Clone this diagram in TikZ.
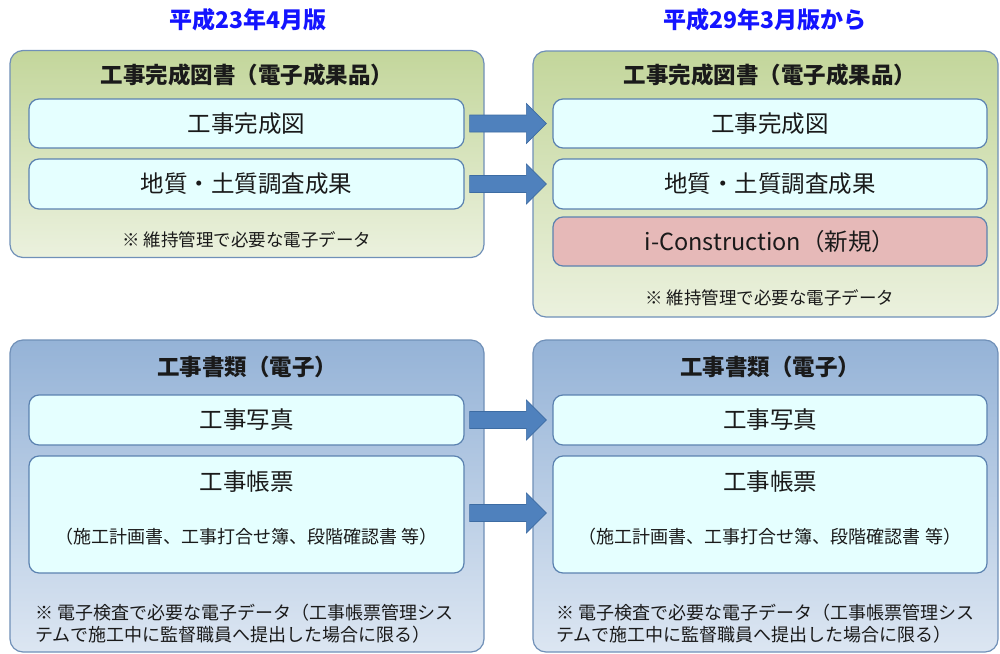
\documentclass[tikz,border=0pt]{standalone}
\usepackage{fontspec}
\setmainfont{Noto Sans CJK JP}
\usetikzlibrary{calc}
\definecolor{titleblue}{HTML}{1414FF}
\definecolor{greentop}{HTML}{C3D69B}
\definecolor{greenbot}{HTML}{EBF1DE}
\definecolor{bluetop}{HTML}{95B3D7}
\definecolor{bluebot}{HTML}{DCE6F2}
\definecolor{outerline}{HTML}{7090B8}
\definecolor{innerline}{HTML}{5B82B0}
\definecolor{innerfill}{HTML}{E5FFFF}
\definecolor{pinkfill}{HTML}{E6B9B8}
\definecolor{arrowfill}{HTML}{4F81BD}
\definecolor{arrowline}{HTML}{3D6CA3}
\definecolor{txt}{HTML}{1A1A1A}
\begin{document}
\begin{tikzpicture}[x=1pt,y=-1pt,
  greenbox/.style={draw=outerline,line width=1.2pt,rounded corners=13pt,top color=greentop,bottom color=greenbot,inner sep=0pt},
  bluebox/.style={draw=outerline,line width=1.2pt,rounded corners=13pt,top color=bluetop,bottom color=bluebot,inner sep=0pt},
  innerbox/.style={draw=innerline,line width=1.2pt,rounded corners=10pt,fill=innerfill,inner sep=0pt,text=txt,font=\fontsize{23.5}{27}\selectfont},
  pinkbox/.style={innerbox,fill=pinkfill},
  titletext/.style={text=titleblue,font=\fontsize{23}{27}\selectfont\bfseries,inner sep=0pt},
  headtext/.style={text=txt,font=\fontsize{22.5}{26}\selectfont\bfseries,inner sep=0pt},
  notetext/.style={text=txt,font=\fontsize{17.5}{20}\selectfont,inner sep=0pt},
  bignote/.style={text=txt,font=\fontsize{18}{22}\selectfont,inner sep=0pt,align=left},
  subtext/.style={text=txt,font=\fontsize{18}{20}\selectfont,inner sep=0pt},
  blockarrow/.style={fill=arrowfill,draw=arrowline,line width=0.6pt}
]
\useasboundingbox[fill=white] (0,0) rectangle (1000,653);

% titles
\node[titletext] (t1) at (248,20) {平成23年4月版};
\node[titletext] (t2) at (765,20) {平成29年3月版から};

% outer boxes
\node[greenbox,minimum width=474pt,minimum height=207pt] (gl) at (247,154) {};
\node[greenbox,minimum width=465pt,minimum height=266pt] (gr) at (765.5,184) {};
\node[bluebox,minimum width=474pt,minimum height=312pt] (bl) at (247,496) {};
\node[bluebox,minimum width=465pt,minimum height=312pt] (br) at (765.5,496) {};

% headers
\node[headtext] (hgl) at (247,75) {工事完成図書（電子成果品）};
\node[headtext] (hgr) at (770,75) {工事完成図書（電子成果品）};
\node[headtext] (hbl) at (247,367) {工事書類（電子）};
\node[headtext] (hbr) at (770,367) {工事書類（電子）};

% inner boxes left top
\node[innerbox,minimum width=435pt,minimum height=49pt] (l1) at (246.5,123.5) {工事完成図};
\node[innerbox,minimum width=435pt,minimum height=50pt] (l2) at (246.5,184) {地質・土質調査成果};
% inner boxes right top
\node[innerbox,minimum width=434pt,minimum height=49pt] (r1) at (770,123.5) {工事完成図};
\node[innerbox,minimum width=434pt,minimum height=50pt] (r2) at (770,184) {地質・土質調査成果};
\node[pinkbox,minimum width=434pt,minimum height=49pt] (r3) at (770,241.5) {i-Construction（新規）};

% notes top
\node[notetext] (ngl) at (247,240) {※ 維持管理で必要な電子データ};
\node[notetext] (ngr) at (770,298) {※ 維持管理で必要な電子データ};

% inner boxes bottom
\node[innerbox,minimum width=435pt,minimum height=50pt] (l3) at (246.5,420) {工事写真};
\node[innerbox,minimum width=435pt,minimum height=117pt] (l4) at (246.5,514.5) {};
\node[innerbox,minimum width=434pt,minimum height=50pt] (r4) at (770,420) {工事写真};
\node[innerbox,minimum width=434pt,minimum height=117pt] (r5) at (770,514.5) {};
\node[innerbox,draw=none,fill=none] (l4t) at (246.5,482) {工事帳票};
\node[subtext] (l4s) at (246.5,537) {（施工計画書、工事打合せ簿、段階確認書 等）};
\node[innerbox,draw=none,fill=none] (r5t) at (770,482) {工事帳票};
\node[subtext] (r5s) at (770,537) {（施工計画書、工事打合せ簿、段階確認書 等）};

% bottom notes
\node[bignote,anchor=west] (nbl) at (35,624) {※ 電子検査で必要な電子データ（工事帳票管理シス\\テムで施工中に監督職員へ提出した場合に限る）};
\node[bignote,anchor=west] (nbr) at (556,624) {※ 電子検査で必要な電子データ（工事帳票管理シス\\テムで施工中に監督職員へ提出した場合に限る）};

% block arrows
\foreach \a/\b in {l1/r1,l2/r2,l3/r4}{
  \coordinate (s) at ($(\a.east)+(5,0)$);
  \coordinate (e) at ($(\b.west |- \a.east)+(-6,0)$);
  \draw[blockarrow] ($(s)+(0,-8.5)$) -- ($(e)+(-20,-8.5)$) -- ($(e)+(-20,-20)$) -- (e) -- ($(e)+(-20,20)$) -- ($(e)+(-20,8.5)$) -- ($(s)+(0,8.5)$) -- cycle;
}
\coordinate (s) at ($(l4.east)+(5,-1.5)$);
\coordinate (e) at ($(r5.west)+(-6,-1.5)$);
\draw[blockarrow] ($(s)+(0,-8.5)$) -- ($(e)+(-20,-8.5)$) -- ($(e)+(-20,-20)$) -- (e) -- ($(e)+(-20,20)$) -- ($(e)+(-20,8.5)$) -- ($(s)+(0,8.5)$) -- cycle;
\end{tikzpicture}
\end{document}
